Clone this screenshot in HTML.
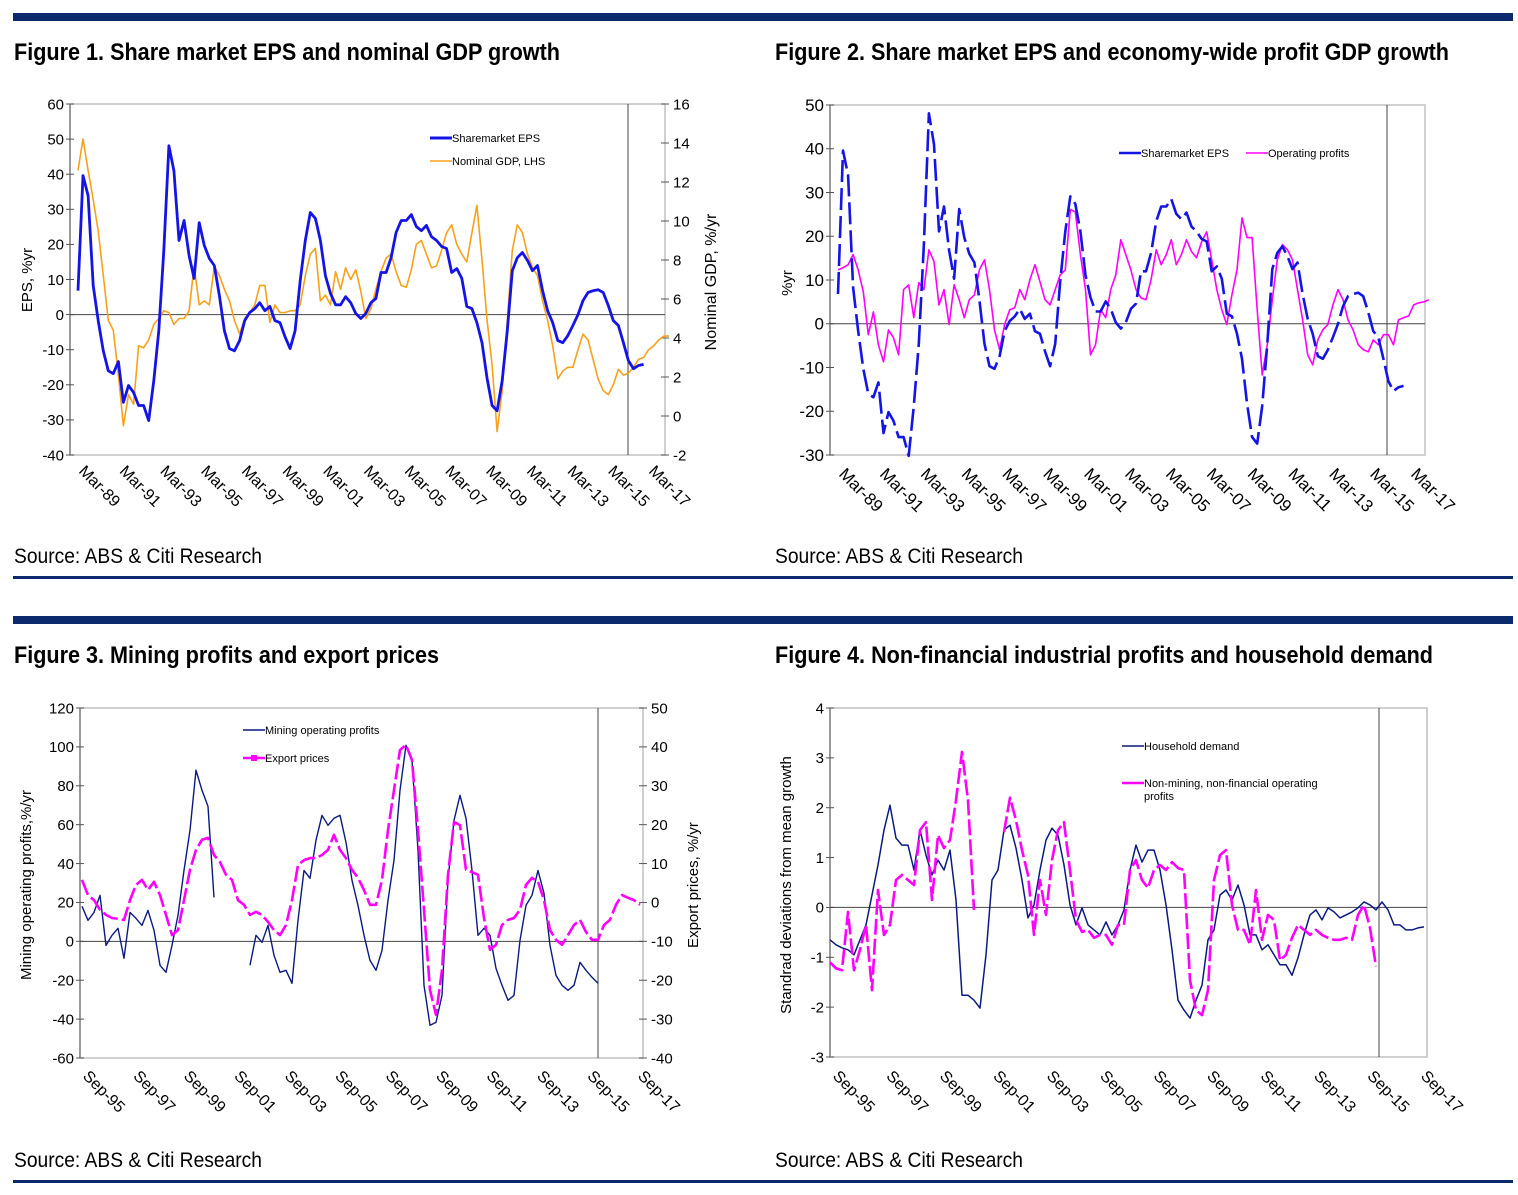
<!DOCTYPE html>
<html><head><meta charset="utf-8"><style>
html,body{margin:0;padding:0;background:#fff;}
svg{display:block;font-family:"Liberation Sans",sans-serif;}
.narrow{font-family:"Liberation Sans Narrow","Liberation Sans",sans-serif;}
</style></head><body>
<svg id="root" width="1518" height="1195" viewBox="0 0 1518 1195" xmlns="http://www.w3.org/2000/svg">
<rect x="13" y="13" width="1500" height="8" fill="#0b2a6e"/>
<rect x="13" y="576" width="1500" height="3" fill="#0b2a6e"/>
<rect x="13" y="616" width="1500" height="8" fill="#0b2a6e"/>
<rect x="13" y="1180" width="1500" height="3" fill="#0b2a6e"/>
<text class="narrow" x="14" y="60" font-size="24" font-weight="bold" textLength="546" lengthAdjust="spacingAndGlyphs">Figure 1. Share market EPS and nominal GDP growth</text>
<text class="narrow" x="775" y="60" font-size="24" font-weight="bold" textLength="674" lengthAdjust="spacingAndGlyphs">Figure 2. Share market EPS and economy-wide profit GDP growth</text>
<text class="narrow" x="14" y="663" font-size="24" font-weight="bold" textLength="425" lengthAdjust="spacingAndGlyphs">Figure 3. Mining profits and export prices</text>
<text class="narrow" x="775" y="663" font-size="24" font-weight="bold" textLength="658" lengthAdjust="spacingAndGlyphs">Figure 4. Non-financial industrial profits and household demand</text>
<text class="narrow" x="14" y="563" font-size="21" textLength="248" lengthAdjust="spacingAndGlyphs">Source: ABS &amp; Citi Research</text>
<text class="narrow" x="775" y="563" font-size="21" textLength="248" lengthAdjust="spacingAndGlyphs">Source: ABS &amp; Citi Research</text>
<text class="narrow" x="14" y="1167" font-size="21" textLength="248" lengthAdjust="spacingAndGlyphs">Source: ABS &amp; Citi Research</text>
<text class="narrow" x="775" y="1167" font-size="21" textLength="248" lengthAdjust="spacingAndGlyphs">Source: ABS &amp; Citi Research</text>
</svg>
<script>
// ---------- data ----------
const epsValues = [6.8,39.6,33.9,8.3,-1.7,-10.3,-16,-16.8,-13.4,-25,-20.2,-22.2,-25.9,-25.9,-30.2,-18.8,-4.6,18.2,48.1,41,21.1,26.8,16.8,10.3,26.2,19.7,16,14,5.4,-4.6,-9.7,-10.3,-7.4,-1.7,0.6,1.7,3.4,1.1,2.3,-1.7,-2.3,-6.3,-9.7,-4.6,9.7,21.1,29.1,27.4,21.1,11.1,6,2.8,2.8,5.1,3.4,0.3,-1.1,0.3,3.4,4.6,12,12,16.2,23.4,26.8,26.8,28.5,25.1,23.9,25.4,22.2,21.1,19.4,18.8,12,13.1,10.3,2.3,1.7,-2.3,-8,-18.2,-25.9,-27.4,-18.8,-4.6,12.5,16.2,17.7,15.4,12.5,14,6.8,1.1,-2.3,-7.4,-8,-6,-3.1,0,4,6.3,6.8,7.1,6.3,2.6,-1.7,-3.1,-8,-13.1,-15.4,-14.5,-14.2];
const gdpValues = [12.6,14.2,12.6,11.1,9.5,7.2,4.9,4.4,2.1,-0.5,1.1,0.6,3.6,3.5,3.9,4.7,5.0,5.4,5.3,4.7,5.0,5.0,5.4,7.7,5.7,5.9,5.7,7.7,7.2,6.5,5.9,4.9,4.2,5.0,5.3,5.7,6.7,6.7,4.8,5.7,5.3,5.3,5.4,5.4,5.7,7.2,8.3,8.6,5.9,6.2,5.7,7.4,6.5,7.6,7.0,7.5,6.4,5.0,5.5,6.5,7.4,8.1,8.3,7.4,6.7,6.6,7.5,8.8,9.0,8.3,7.6,7.7,8.5,9.4,9.8,8.8,8.3,7.9,9.4,10.8,8.0,4.9,2.6,-0.8,1.3,4.9,8.5,9.8,9.4,8.3,7.6,7.2,5.9,4.9,3.6,1.9,2.3,2.5,2.5,3.4,4.2,3.9,2.9,1.9,1.3,1.1,1.6,2.4,2.1,2.2,2.5,2.9,3.0,3.4,3.6,3.9,4.1,4.1];
const opProfitValues = [12.3,12.8,13.5,15.8,12.3,7.3,-2.5,2.7,-4.8,-8.7,-1.4,-3.2,-7.1,7.8,8.9,1.4,9.4,7.8,16.9,14.2,4.3,7.8,-0.2,8.9,5.5,1.4,5.5,6.6,12.3,14.6,7.8,-1.4,-5.9,-0.2,3.2,3.7,7.8,5.5,10.1,13.5,9.6,5.5,4.3,7.8,11.2,12.3,26.1,25.6,15.8,7.8,-7.1,-4.8,3.2,1.4,7.8,11.2,19.2,15.8,12.3,7.8,5.9,5.5,10.1,16.9,13.5,15.8,19.2,13.5,15.8,19.2,16.5,15.1,18.7,21,14.6,7.8,3.2,-0.2,6.6,12.3,24.2,19.7,19.7,3.2,-11.7,-4.8,5.5,14.6,18.1,16.9,14.6,7.8,0.9,-7.1,-9.4,-3.7,-1.4,-0.2,4.3,7.8,5.5,0.9,-1.4,-4.8,-5.9,-6.4,-3.7,-4.8,-2.5,-2.5,-4.8,0.9,1.4,1.8,4.3,4.8,5.0,5.5];
const miningValues = [18.0,10.8,14.9,23.7,-2.1,3.1,6.7,-8.7,14.9,11.8,8.2,15.9,5.7,-12.3,-15.9,-2.1,13.4,36.5,57.1,88.0,77.7,69.4,22.6,null,null,null,null,null,-12.3,3.1,-0.5,8.2,-7.2,-15.9,-14.9,-21.6,10.8,36.5,32.4,52.0,64.8,59.7,63.3,64.8,50.9,31.4,18.5,3.1,-9.8,-14.9,-4.6,21.1,41.7,77.7,100.8,93.1,46.8,-22.6,-43.2,-41.7,-27.8,31.4,62.2,75.1,63.3,36.5,3.1,6.7,3.1,-13.9,-22.6,-30.3,-27.8,0.5,18.5,23.7,36.5,24.7,-2.1,-17.5,-22.6,-25.2,-22.6,-10.8,-14.9,-18.5,-21.6];
const exportValues = [5.8,1.9,0.6,-1.9,-3.2,-4.0,-4.2,-4.5,0.6,4.5,5.8,3.2,5.3,1.9,-3.2,-8.4,-7.1,0.6,8.4,13.5,16.1,16.6,12.2,10.4,7.1,5.8,0.6,-0.6,-3.2,-2.4,-3.2,-5.0,-7.1,-8.4,-5.8,0.6,9.6,10.9,11.4,11.4,12.2,13.5,17.4,13.5,11.4,8.4,6.3,3.2,-0.6,-0.6,5.8,18.6,28.9,39.2,40.5,36.6,18.6,-1.9,-22.5,-28.9,-17.4,7.1,20.7,19.9,8.4,7.8,7.1,-4.0,-12.2,-10.9,-5.8,-4.5,-4.0,-1.9,4.5,6.3,5.3,0.6,-7.1,-9.6,-10.9,-8.4,-5.8,-4.5,-7.6,-9.6,-9.6,-5.8,-4.5,-0.6,1.9,1.2,0.6,-0.6];
const householdValues = [-0.65,-0.75,-0.81,-0.85,-0.95,-0.65,-0.35,0.25,0.85,1.55,2.05,1.39,1.25,1.25,0.75,1.55,1.05,0.65,0.95,0.75,1.15,0.15,-1.76,-1.76,-1.86,-2.02,-0.95,0.55,0.75,1.55,1.65,1.19,0.55,-0.21,0.05,0.75,1.35,1.59,1.45,0.85,0.05,-0.35,-0.01,-0.35,-0.45,-0.55,-0.29,-0.55,-0.35,-0.05,0.75,1.25,0.91,1.15,1.15,0.75,0.05,-0.85,-1.86,-2.06,-2.22,-1.86,-1.56,-0.65,-0.45,0.25,0.35,0.15,0.45,0.05,-0.55,-0.55,-0.85,-0.75,-0.95,-1.15,-1.15,-1.36,-1.01,-0.55,-0.15,-0.05,-0.25,-0.01,-0.09,-0.21,-0.15,-0.09,-0.01,0.11,0.05,-0.05,0.11,-0.05,-0.35,-0.35,-0.45,-0.45,-0.41,-0.39];
const nonMiningValues = [-1.1,-1.22,-1.26,-0.09,-1.26,-0.85,-0.35,-1.66,0.35,-0.55,-0.35,0.55,0.65,0.55,0.45,1.55,1.71,0.15,1.45,1.19,1.35,2.15,3.12,2.15,-0.05,null,null,null,null,1.51,2.2,1.75,1.15,0.65,-0.55,0.55,-0.15,0.95,1.55,1.71,0.75,-0.25,-0.49,-0.45,-0.61,-0.55,-0.55,-0.75,-0.35,-0.35,0.75,0.95,0.55,0.39,0.75,0.85,0.75,0.91,0.79,0.75,-1.46,-2.06,-2.16,-1.66,0.55,1.05,1.15,0.05,-0.45,-0.45,-0.75,0.35,-0.65,-0.15,-0.25,-1.06,-0.95,-0.61,-0.35,-0.45,-0.55,-0.45,-0.55,-0.61,-0.65,-0.65,-0.61,-0.65,-0.15,0.05,-0.41,-1.18];
const marLabels = ["Mar-89","Mar-91","Mar-93","Mar-95","Mar-97","Mar-99","Mar-01","Mar-03","Mar-05","Mar-07","Mar-09","Mar-11","Mar-13","Mar-15","Mar-17"];
const sepLabels = ["Sep-95","Sep-97","Sep-99","Sep-01","Sep-03","Sep-05","Sep-07","Sep-09","Sep-11","Sep-13","Sep-15","Sep-17"];
const ticks1L = [60,50,40,30,20,10,0,-10,-20,-30,-40];
const ticks1R = [16,14,12,10,8,6,4,2,0,-2];
const ticks2 = [50,40,30,20,10,0,-10,-20,-30];
const ticks3L = [120,100,80,60,40,20,0,-20,-40,-60];
const ticks3R = [50,40,30,20,10,0,-10,-20,-30,-40];
const ticks4 = [4,3,2,1,0,-1,-2,-3];

// ---------- helpers ----------
const NS = "http://www.w3.org/2000/svg";
const root = document.getElementById('root');
function el(tag, attrs){ const e=document.createElementNS(NS,tag); for(const k in attrs) e.setAttribute(k,attrs[k]); root.appendChild(e); return e; }
function lin(d0,d1,r0,r1){ return v => r0 + (v-d0)*(r1-r0)/(d1-d0); }
function pathFrom(vals, xf, yf){ let d="", pen=false; vals.forEach((v,i)=>{ if(v===null||v===undefined){pen=false;return;} d += (pen?"L":"M")+xf(i).toFixed(1)+","+yf(v).toFixed(1); pen=true; }); return d; }

function frame(c){
  const r = el('rect',{x:c.x0,y:c.y0,width:c.x1-c.x0,height:c.y1-c.y0,fill:'none',stroke:'#c0c0c0','stroke-width':1.5});
  
  
  const la = el('line',{x1:c.x0,y1:c.y0,x2:c.x0,y2:c.y1,stroke:'#555','stroke-width':1});
  
  
}
function yTicks(c, ticks, yf, side, fs){
  ticks.forEach(t=>{
    const y=yf(t);
    const xa = side==='L'?c.x0:c.x1;
    const tk = el('line',{x1:xa-4,y1:y,x2:xa+4,y2:y,stroke:'#555','stroke-width':1});
    
    
    const tx = el('text',{x: side==='L'? xa-6 : xa+8, y:y+fs*0.35, 'font-size':fs, 'text-anchor': side==='L'?'end':'start', fill:'#000'});
    tx.textContent = t;
    
    
  });
}
function xLabels(c, labels, first, last, ty, fs){
  const step=(last-first)/(labels.length-1);
  labels.forEach((l,i)=>{
    const x=first+i*step;
    const tx = el('text',{x:x, y:ty, 'font-size':fs, transform:`rotate(45 ${x} ${ty})`, fill:'#000'});
    tx.textContent=l;
    
    
  });
}
function hline(c, y, name){ const l=el('line',{x1:c.x0,y1:y,x2:c.x1,y2:y,stroke:'#444','stroke-width':1});   }
function vline(x, y0, y1, name){ const l=el('line',{x1:x,y1:y0,x2:x,y2:y1,stroke:'#444','stroke-width':1});   }
function series(vals, xf, yf, stroke, w, dash, name){
  const p=el('path',{d:pathFrom(vals,xf,yf),fill:'none',stroke:stroke,'stroke-width':w,'stroke-linejoin':'round'});
  if(dash) p.setAttribute('stroke-dasharray',dash);
  
  
}
function legend(x,y,stroke,w,text,name,fs){
  const l=el('line',{x1:x,y1:y,x2:x+22,y2:y,stroke:stroke,'stroke-width':w});
  
  
  const t=el('text',{x:x+22,y:y+4,'font-size':fs||11,fill:'#000'});
  t.textContent=text;
  
  
  return t;
}
function axisTitle(x,y,text,fs,name){
  const t=el('text',{x:x,y:y,'font-size':fs,'text-anchor':'middle',transform:`rotate(-90 ${x} ${y})`,fill:'#000'});
  t.textContent=text;
  
  
}

// ---------- Figure 1 ----------
{
  const c={id:'fig1',x0:70,x1:665,y0:104,y1:455};
  frame(c);
  const yL=lin(-40,60,455,104), yR=lin(-2,16,455,104);
  const xf=i=>78+i*5.05;
  yTicks(c,ticks1L,yL,'L',15); yTicks(c,ticks1R,yR,'R',15);
  hline(c,yL(0),'fig1-zero-line');
  vline(628,104,455,'fig1-forecast-divider');
  xLabels(c,marLabels,78,648,472,16);
  series(gdpValues,xf,yR,'#f7a11a',1.6,null,'fig1-nominal-gdp-line');
  series(epsValues,xf,yL,'#1414e6',2.8,null,'fig1-eps-line');
  legend(430,138,'#1414e6',3,'Sharemarket EPS','fig1-legend-eps');
  legend(430,161,'#f7a11a',1.6,'Nominal GDP, LHS','fig1-legend-gdp');
  axisTitle(32,280,'EPS, %yr',15,'fig1-left-axis-title');
  axisTitle(716,282,'Nominal GDP, %/yr',16,'fig1-right-axis-title');
}
// ---------- Figure 2 ----------
{
  const c={id:'fig2',x0:830,x1:1425,y0:105,y1:455};
  frame(c);
  const y=lin(-30,50,455,105);
  const xf=i=>838+i*5.05;
  yTicks(c,ticks2,y,'L',17);
  hline(c,y(0),'fig2-zero-line');
  vline(1387,105,455,'fig2-forecast-divider');
  xLabels(c,marLabels,838,1410,475,17);
  series(opProfitValues,xf,y,'#ff00ff',1.6,null,'fig2-operating-profits-line');
  series(epsValues,xf,y,'#1414e6',2.6,'22,6','fig2-eps-line');
  legend(1119,153,'#1414e6',2.5,'Sharemarket EPS','fig2-legend-eps');
  legend(1246,153,'#ff00ff',1.6,'Operating profits','fig2-legend-operating-profits');
  axisTitle(792,283,'%yr',15,'fig2-y-axis-title');
}
// ---------- Figure 3 ----------
{
  const c={id:'fig3',x0:80,x1:643,y0:708,y1:1058};
  frame(c);
  const yL=lin(-60,120,1058,708), yR=lin(-40,50,1058,708);
  const xf=i=>82+i*6.0;
  yTicks(c,ticks3L,yL,'L',15); yTicks(c,ticks3R,yR,'R',15);
  hline(c,yL(0),'fig3-zero-line');
  vline(598,708,1058,'fig3-forecast-divider');
  xLabels(c,sepLabels,82,637,1077,16);
  series(miningValues,xf,yL,'#0a1a80',1.4,null,'fig3-mining-profits-line');
  series(exportValues,xf,yR,'#ff00ff',2.6,'16,4','fig3-export-prices-line');
  legend(243,730,'#0a1a80',1.4,'Mining operating profits','fig3-legend-mining');
  legend(243,758,'#ff00ff',2.6,'Export prices','fig3-legend-export');
  const m=el('rect',{x:251,y:755,width:6,height:6,fill:'#ff00ff'});
  
  
  axisTitle(31,885,'Mining operating profits,%/yr',15,'fig3-left-axis-title');
  axisTitle(698,885,'Export prices, %/yr',15,'fig3-right-axis-title');
}
// ---------- Figure 4 ----------
{
  const c={id:'fig4',x0:830,x1:1427,y0:708,y1:1057};
  frame(c);
  const y=lin(-3,4,1057,708);
  const xf=i=>830+i*6.0;
  yTicks(c,ticks4,y,'L',15);
  hline(c,y(0),'fig4-zero-line');
  vline(1379,708,1057,'fig4-forecast-divider');
  xLabels(c,sepLabels,832,1420,1077,16);
  series(householdValues,xf,y,'#0a1a80',1.5,null,'fig4-household-demand-line');
  series(nonMiningValues,xf,y,'#ff00ff',2.6,'16,4','fig4-non-mining-profits-line');
  legend(1122,746,'#0a1a80',1.5,'Household demand','fig4-legend-household');
  legend(1122,783,'#ff00ff',2.6,'Non-mining, non-financial operating','fig4-legend-non-mining');
  const t=el('text',{x:1144,y:800,'font-size':11,fill:'#000'});
  t.textContent='profits';
  
  
  axisTitle(791,885,'Standrad deviations from mean growth',15,'fig4-y-axis-title');
}
</script>
</body></html>
